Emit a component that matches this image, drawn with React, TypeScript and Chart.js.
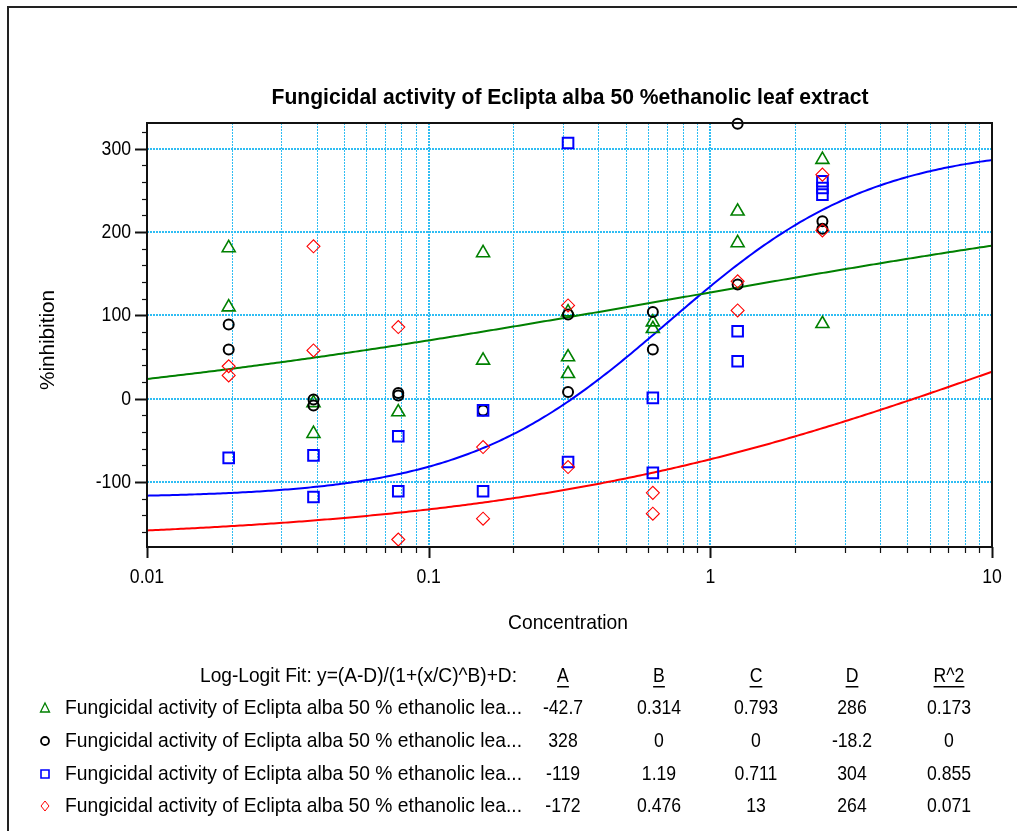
import React, { useEffect, useRef } from 'react';
import { Chart, registerables } from 'chart.js';

Chart.register(...registerables);

const chartTitle = 'Fungicidal activity of Eclipta alba 50 %ethanolic leaf extract';
const xAxisTitle = 'Concentration';
const yAxisTitle = '%inhibition';
const seriesNames = [
  'Fungicidal activity of Eclipta alba 50 % ethanolic lea...',
  'Fungicidal activity of Eclipta alba 50 % ethanolic lea...',
  'Fungicidal activity of Eclipta alba 50 % ethanolic lea...',
  'Fungicidal activity of Eclipta alba 50 % ethanolic lea...',
];
const fitHeader = 'Log-Logit Fit: y=(A-D)/(1+(x/C)^B)+D:';
const paramHeaders = ['A', 'B', 'C', 'D', 'R^2'];

const xTickValues = [0.01, 0.1, 1, 10];
const xTickLabels = ['0.01', '0.1', '1', '10'];
const yTickValues = [-100, 0, 100, 200, 300];
const yTickLabels = ['-100', '0', '100', '200', '300'];

// Series 1 (green triangles)
const greenConc = [0.0195, 0.0195, 0.039, 0.039, 0.078, 0.156, 0.156, 0.3125, 0.3125, 0.3125, 0.625, 0.625, 1.25, 1.25, 2.5, 2.5];
const greenInhibition = [181, 110, -5, -42, -16, 175, 46, 104, 50, 30, 92, 84, 225, 187, 287, 90];

// Series 2 (black circles)
const blackConc = [0.0195, 0.0195, 0.039, 0.039, 0.078, 0.078, 0.156, 0.3125, 0.3125, 0.625, 0.625, 1.25, 1.25, 2.5, 2.5];
const blackInhibition = [89, 59, -1, -8, 7, 4, -14, 101, 8, 104, 59, 330, 137, 213, 204];

// Series 3 (blue squares)
const blueConc = [0.0195, 0.039, 0.039, 0.078, 0.078, 0.156, 0.156, 0.3125, 0.3125, 0.625, 0.625, 1.25, 1.25, 2.5, 2.5, 2.5];
const blueInhibition = [-71, -68, -118, -45, -111, -14, -111, 307, -76, 1, -89, 81, 45, 261, 253, 245];

// Series 4 (red diamonds)
const redConc = [0.0195, 0.0195, 0.039, 0.039, 0.078, 0.078, 0.156, 0.156, 0.3125, 0.3125, 0.625, 0.625, 1.25, 1.25, 2.5, 2.5];
const redInhibition = [39, 28, 183, 58, 86, -169, -58, -144, 112, -82, -113, -138, 141, 106, 269, 202];

// Log-logit fit parameters (from the table)
const fitA = [-42.7, 328, -119, -172];
const fitB = [0.314, 0, 1.19, 0.476];
const fitC = [0.793, 0, 0.711, 13];
const fitD = [286, -18.2, 304, 264];
const fitR2 = [0.173, 0, 0.855, 0.071];

const seriesConc = [greenConc, blackConc, blueConc, redConc];
const seriesInhibition = [greenInhibition, blackInhibition, blueInhibition, redInhibition];
const seriesColors = ['#008000', '#000000', '#0000ff', '#ff0000'];
const seriesStyles = ['triangle', 'circle', 'rect', 'rectRot'];
const seriesRadius = [7.5, 5, 7.5, 6.5];
const seriesBorder = [1.6, 2, 2, 1.1];

const FONT = '"Liberation Sans", Arial, Helvetica, sans-serif';
const GRID = '#2fbdf3';

function drawText(
  ctx: CanvasRenderingContext2D,
  s: string,
  x: number,
  y: number,
  size: number,
  align: CanvasTextAlign,
  opts: { bold?: boolean; sx?: number; width?: number; rotate?: number } = {}
) {
  ctx.save();
  ctx.font = `${opts.bold ? 'bold ' : ''}${size}px ${FONT}`;
  let sx = opts.sx ?? 0.84;
  if (opts.width) sx = opts.width / ctx.measureText(s).width;
  ctx.translate(x, y);
  if (opts.rotate) ctx.rotate(opts.rotate);
  ctx.scale(sx, 1);
  ctx.textAlign = align;
  ctx.textBaseline = 'middle';
  ctx.fillStyle = '#000';
  ctx.fillText(s, 0, 0);
  const w = ctx.measureText(s).width * sx;
  ctx.restore();
  return w;
}

function drawGlyph(ctx: CanvasRenderingContext2D, i: number, x: number, y: number) {
  ctx.save();
  ctx.strokeStyle = seriesColors[i];
  ctx.beginPath();
  if (i === 0) {
    ctx.lineWidth = 1.3;
    ctx.moveTo(x, y - 5);
    ctx.lineTo(x + 4.5, y + 4);
    ctx.lineTo(x - 4.5, y + 4);
    ctx.closePath();
  } else if (i === 1) {
    ctx.lineWidth = 1.8;
    ctx.arc(x, y, 4, 0, Math.PI * 2);
  } else if (i === 2) {
    ctx.lineWidth = 1.6;
    ctx.rect(x - 4, y - 4, 8, 8);
  } else {
    ctx.lineWidth = 1;
    ctx.moveTo(x, y - 5);
    ctx.lineTo(x + 4, y);
    ctx.lineTo(x, y + 5);
    ctx.lineTo(x - 4, y);
    ctx.closePath();
  }
  ctx.stroke();
  ctx.restore();
}

function xGridValues() {
  const vals: number[] = [];
  for (let d = 0; d < xTickValues.length - 1; d++) {
    for (let m = 1; m <= 9; m++) vals.push(xTickValues[d] * m);
  }
  vals.push(xTickValues[xTickValues.length - 1]);
  return vals;
}

const decorPlugin = {
  id: 'decor',
  beforeDatasetsDraw(chart: any) {
    const { ctx, chartArea: a, scales } = chart;
    const xs = scales.x;
    const ys = scales.y;
    ctx.save();
    ctx.strokeStyle = GRID;
    ctx.setLineDash([2, 1]);
    for (const v of xGridValues()) {
      const major = xTickValues.includes(v);
      const px = Math.round(xs.getPixelForValue(v)) + (major ? 0 : 0.5);
      if (px < a.left + 1 || px > a.right - 1) continue;
      ctx.lineWidth = major ? 2 : 1;
      ctx.beginPath();
      ctx.moveTo(px, a.top);
      ctx.lineTo(px, a.bottom);
      ctx.stroke();
    }
    ctx.lineWidth = 2;
    for (const v of yTickValues) {
      const py = Math.round(ys.getPixelForValue(v));
      ctx.beginPath();
      ctx.moveTo(a.left, py);
      ctx.lineTo(a.right, py);
      ctx.stroke();
    }
    ctx.restore();
  },
  afterDraw(chart: any) {
    const { ctx, chartArea: a, scales } = chart;
    const xs = scales.x;
    const ys = scales.y;
    ctx.save();
    // outer frame
    ctx.fillStyle = '#222';
    ctx.fillRect(7, 6, 1010, 2);
    ctx.fillRect(7, 6, 2, 825);
    // plot frame
    ctx.strokeStyle = '#111';
    ctx.lineWidth = 2;
    ctx.strokeRect(a.left, a.top, a.right - a.left, a.bottom - a.top);
    // y ticks
    for (let v = Math.ceil(ys.min / 20) * 20; v <= ys.max; v += 20) {
      const py = Math.round(ys.getPixelForValue(v)) + 0.5;
      const major = yTickValues.includes(v);
      ctx.lineWidth = major ? 2 : 1.2;
      ctx.beginPath();
      ctx.moveTo(a.left - (major ? 12 : 5), py);
      ctx.lineTo(a.left, py);
      ctx.stroke();
    }
    // x ticks
    for (const v of xGridValues()) {
      const px = Math.round(xs.getPixelForValue(v)) + 0.5;
      const major = xTickValues.includes(v);
      ctx.lineWidth = major ? 2 : 1.2;
      ctx.beginPath();
      ctx.moveTo(px, a.bottom);
      ctx.lineTo(px, a.bottom + (major ? 11 : 6));
      ctx.stroke();
    }
    ctx.restore();

    yTickValues.forEach((v, i) => {
      drawText(ctx, yTickLabels[i], 131, ys.getPixelForValue(v), 21, 'right', { sx: 0.84 });
    });
    xTickValues.forEach((v, i) => {
      drawText(ctx, xTickLabels[i], xs.getPixelForValue(v), 577, 21, 'center', { sx: 0.84 });
    });

    drawText(ctx, chartTitle, 570, 98, 22, 'center', { bold: true, width: 597 });
    drawText(ctx, xAxisTitle, 568, 623, 21, 'center', { width: 120 });
    drawText(ctx, yAxisTitle, 48, 340, 21, 'center', { width: 100, rotate: -Math.PI / 2 });

    // fit table
    drawText(ctx, fitHeader, 517, 676, 21, 'right', { width: 317 });
    const colX = [563, 659, 756, 852, 949];
    paramHeaders.forEach((h, j) => {
      const w = drawText(ctx, h, colX[j], 676, 21, 'center', { sx: 0.84 });
      ctx.save();
      ctx.fillStyle = '#000';
      ctx.fillRect(colX[j] - w / 2, 686, w, 1.5);
      ctx.restore();
    });
    const rowY = [708, 741, 774, 806];
    const params = [fitA, fitB, fitC, fitD, fitR2];
    for (let i = 0; i < 4; i++) {
      drawGlyph(ctx, i, 45, rowY[i]);
      drawText(ctx, seriesNames[i], 65, rowY[i], 21, 'left', { width: 457 });
      params.forEach((p, j) => {
        drawText(ctx, String(p[i]), colX[j], rowY[i], 21, 'center', { sx: 0.84 });
      });
    }
  },
};

function fitCurve(i: number) {
  const pts: { x: number; y: number }[] = [];
  if (fitB[i] === 0 || fitC[i] === 0) return pts;
  const lo = Math.log10(xTickValues[0]);
  const hi = Math.log10(xTickValues[xTickValues.length - 1]);
  const n = 300;
  for (let k = 0; k <= n; k++) {
    const x = Math.pow(10, lo + ((hi - lo) * k) / n);
    const y = (fitA[i] - fitD[i]) / (1 + Math.pow(x / fitC[i], fitB[i])) + fitD[i];
    pts.push({ x, y });
  }
  return pts;
}

export default function App() {
  const ref = useRef<HTMLCanvasElement>(null);
  useEffect(() => {
    if (!ref.current) return;
    const datasets: any[] = [];
    for (let i = 0; i < 4; i++) {
      const pts = fitCurve(i);
      if (pts.length) {
        datasets.push({
          label: 'fit ' + i,
          data: pts,
          showLine: true,
          borderColor: seriesColors[i],
          borderWidth: 2,
          pointRadius: 0,
          order: 20 + i,
        });
      }
    }
    for (let i = 0; i < 4; i++) {
      datasets.push({
        label: seriesNames[i],
        data: seriesConc[i].map((c, k) => ({ x: c, y: seriesInhibition[i][k] })),
        showLine: false,
        pointStyle: seriesStyles[i],
        pointRadius: seriesRadius[i],
        pointBorderWidth: seriesBorder[i],
        borderColor: seriesColors[i],
        pointBorderColor: seriesColors[i],
        pointBackgroundColor: 'rgba(0,0,0,0)',
        backgroundColor: 'rgba(0,0,0,0)',
        clip: false,
        order: 4 - i,
      });
    }
    const chart = new Chart(ref.current, {
      type: 'scatter',
      data: { datasets },
      options: {
        animation: false,
        responsive: false,
        events: [],
        layout: { padding: { top: 123, right: 25, bottom: 184, left: 0 } },
        plugins: { legend: { display: false }, tooltip: { enabled: false }, title: { display: false } },
        scales: {
          x: {
            type: 'logarithmic',
            min: 0.01,
            max: 10,
            ticks: { display: false },
            grid: { display: false },
            border: { display: false },
            afterFit: (s: any) => {
              s.height = 100;
            },
          },
          y: {
            type: 'linear',
            min: -178,
            max: 331,
            ticks: { display: false },
            grid: { display: false },
            border: { display: false },
            afterFit: (s: any) => {
              s.width = 147;
            },
          },
        },
      } as any,
      plugins: [decorPlugin],
    });
    return () => chart.destroy();
  }, []);
  return (
    <div style={{ position: 'absolute', left: 0, top: 0, width: 1017, height: 831, background: '#fff' }}>
      <canvas ref={ref} width={1017} height={831} style={{ display: 'block' }} />
    </div>
  );
}
